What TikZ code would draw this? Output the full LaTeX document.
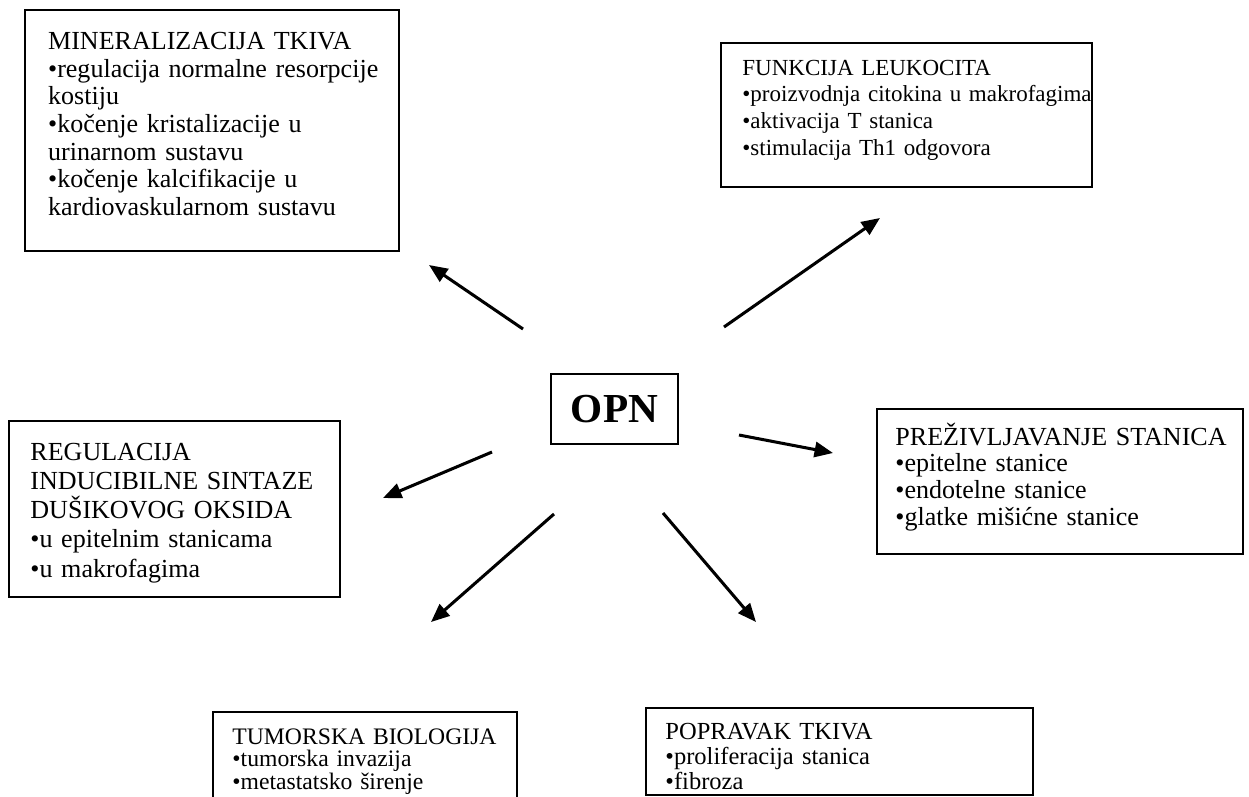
\documentclass[tikz,border=0pt]{standalone}
\usepackage{fontspec}
\setmainfont{Liberation Serif}
\usetikzlibrary{arrows.meta,fit}

\tikzset{
  frame/.style={draw, line width=1pt, inner sep=0pt},
  txt/.style 2 args={anchor=base west, inner sep=0pt, align=left, text width=200pt,
    font=\fontsize{#1}{#2}\selectfont},
  link/.style={line width=1.4pt, -{Triangle[length=8.5pt,width=7pt]}}
}

\begin{document}
\begin{tikzpicture}[x=0.4608pt, y=-0.4608pt]
    \useasboundingbox (0,0) rectangle (1249,796);
    \clip (0,0) rectangle (1249,796);

    % Centre
    \node[frame, minimum width=58.5pt, minimum height=32.3pt,
      font=\fontsize{19}{22}\bfseries\selectfont] (opn) at (614.5,409) {OPN};

    % Frames
    \node[frame, fit={(25,10) (399,251)}] (mineral) {};
    \node[frame, fit={(721,43) (1092,187)}] (leuko) {};
    \node[frame, fit={(9,421) (340,597)}] (nos) {};
    \node[frame, fit={(877,409) (1243,554)}] (surv) {};
    \node[frame, fit={(213,712) (517,840)}] (tumor) {};
    \node[frame, fit={(646,708) (1033,795)}] (repair) {};

    % Texts
    \node[txt={12}{12.75pt}] (mineraltxt) at (47.7,49.5) {MINERALIZACIJA TKIVA\\
      •regulacija normalne resorpcije\\kostiju\\
      •kočenje kristalizacije u\\urinarnom sustavu\\
      •kočenje kalcifikacije u\\kardiovaskularnom sustavu};
    \node[txt={10.6}{12.3pt}] (leukotxt) at (742,75) {FUNKCIJA LEUKOCITA\\
      •proizvodnja citokina u makrofagima\\
      •aktivacija T stanica\\
      •stimulacija Th1 odgovora};
    \node[txt={12}{13.5pt}] (nostxt) at (30,460) {REGULACIJA\\
      INDUCIBILNE SINTAZE\\DUŠIKOVOG OKSIDA\\
      •u epitelnim stanicama\\
      •u makrofagima};
    \node[txt={12}{12.3pt}] (survtxt) at (895,445) {PREŽIVLJAVANJE STANICA\\
      •epitelne stanice\\
      •endotelne stanice\\
      •glatke mišićne stanice};
    \node[txt={10.9}{10.5pt}] (tumortxt) at (232,744) {TUMORSKA BIOLOGIJA\\
      •tumorska invazija\\
      •metastatsko širenje};
    \node[txt={11.3}{11.6pt}] (repairtxt) at (665,739) {POPRAVAK TKIVA\\
      •proliferacija stanica\\
      •fibroza};

    % Arrow ends
    \coordinate (mineral-s) at (523,329);
    \coordinate (mineral-t) at (429,265);
    \coordinate (leuko-s) at (724,327);
    \coordinate (leuko-t) at (880,218);
    \coordinate (nos-s) at (492,452);
    \coordinate (nos-t) at (383,498);
    \coordinate (surv-s) at (739,435);
    \coordinate (surv-t) at (833,453);
    \coordinate (tumor-s) at (554,514);
    \coordinate (tumor-t) at (431,622);
    \coordinate (repair-s) at (663,513);
    \coordinate (repair-t) at (756,622);

    % Arrows
    \foreach \n in {mineral,leuko,nos,surv,tumor,repair}
      \draw[link] (\n-s) -- (\n-t);
\end{tikzpicture}
\end{document}
